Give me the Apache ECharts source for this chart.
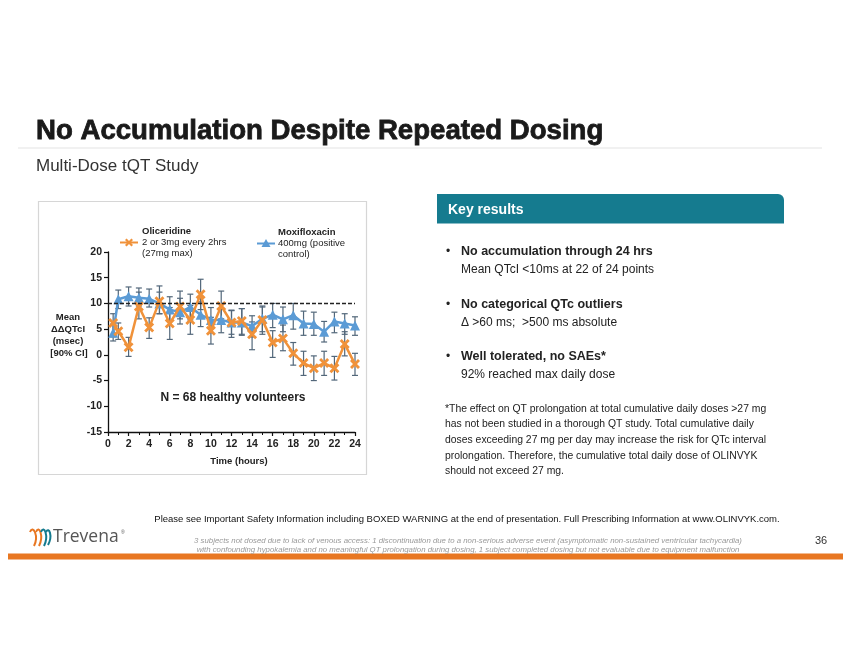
<!DOCTYPE html>
<html>
<head>
<meta charset="utf-8">
<script src="https://cdn.jsdelivr.net/npm/echarts@6/dist/echarts.min.js"></script>
<style>
html,body{margin:0;padding:0;background:#fff;}
#c{width:850px;height:656px;}
</style>
</head>
<body>
<div id="c"></div>
<script>
// ---- data ----
const times = [0.5, 1, 2, 3, 4, 5, 6, 7, 8, 9, 10, 11, 12, 13, 14, 15, 16, 17, 18, 19, 20, 21, 22, 23, 24];
const oliMean = [6.2, 4.6, 1.5, 9.4, 5.3, 10.4, 6.1, 9.4, 6.8, 11.8, 4.7, 9.5, 6.3, 6.6, 4.0, 6.8, 2.4, 3.2, 0.3, -1.6, -2.6, -1.6, -2.6, 2.1, -1.8];
const oliLow  = [3.5, 3.0, -0.3, 7.0, 3.2, 8.0, 3.0, 7.0, 4.0, 8.8, 2.1, 7.0, 3.4, 4.0, 1.0, 4.0, -0.5, 0.8, -2.0, -4.0, -5.0, -4.0, -4.9, -0.2, -4.0];
const oliHigh = [8.0, 6.2, 3.4, 12.2, 7.2, 13.4, 9.2, 12.4, 9.6, 14.7, 7.3, 12.4, 8.6, 9.0, 6.4, 9.5, 4.7, 5.8, 2.4, 0.7, -0.2, 0.7, -0.3, 4.5, 0.3];
const moxMean = [4.3, 10.8, 11.4, 11.1, 10.9, 10.0, 8.8, 8.3, 9.3, 7.8, 6.8, 6.8, 6.3, 6.3, 5.6, 7.0, 7.8, 6.9, 7.7, 6.1, 6.0, 4.5, 6.5, 6.1, 5.7];
const moxLow  = [2.7, 9.0, 9.5, 9.5, 9.3, 8.0, 6.5, 6.0, 6.8, 5.5, 4.3, 4.3, 4.0, 3.8, 3.5, 4.5, 5.3, 4.5, 5.0, 3.8, 3.8, 2.5, 4.3, 4.0, 3.8];
const moxHigh = [6.0, 12.6, 13.2, 13.0, 12.8, 12.2, 11.3, 11.0, 11.8, 10.3, 9.2, 9.0, 8.7, 9.0, 7.6, 9.3, 10.0, 9.3, 10.0, 8.5, 8.3, 6.5, 8.3, 8.0, 7.4];
const refLine = 10;
const xMin = 0, xMax = 24, xStep = 2;
const yMin = -15, yMax = 20, yStep = 5;

const FONT = '"Liberation Sans", Arial, sans-serif';
const ORANGE = '#f0923a';
const BLUE = '#5b9bd5';
const ERR = '#52677a';
const XPATH = 'path://M2,0L5,3L8,0L10,2L7,5L10,8L8,10L5,7L2,10L0,8L3,5L0,2Z';
const XPTS = [[2,0],[5,3],[8,0],[10,2],[7,5],[10,8],[8,10],[5,7],[2,10],[0,8],[3,5],[0,2]];

function pairs(xs, ys) { return xs.map((x, i) => [x, ys[i]]); }
function errData(xs, lo, hi) { return xs.map((x, i) => [x, lo[i], hi[i]]); }

function errRender(params, api) {
  const x = api.value(0);
  const p1 = api.coord([x, api.value(1)]);
  const p2 = api.coord([x, api.value(2)]);
  const w = 3;
  const st = { stroke: ERR, lineWidth: 1.2, fill: null };
  return {
    type: 'group',
    children: [
      { type: 'line', shape: { x1: p1[0], y1: p1[1], x2: p2[0], y2: p2[1] }, style: st },
      { type: 'line', shape: { x1: p1[0] - w, y1: p1[1], x2: p1[0] + w, y2: p1[1] }, style: st },
      { type: 'line', shape: { x1: p2[0] - w, y1: p2[1], x2: p2[0] + w, y2: p2[1] }, style: st }
    ]
  };
}

function txt(x, y, text, size, opts) {
  opts = opts || {};
  return {
    type: 'text', x: x, y: y, z: 10, silent: true,
    style: {
      text: text,
      fontSize: size,
      fontFamily: opts.family || FONT,
      fontWeight: opts.weight || 'normal',
      fontStyle: opts.style || 'normal',
      fill: opts.fill || '#222',
      stroke: opts.stroke || null,
      lineWidth: opts.lw || 0,
      align: opts.align || 'left',
      verticalAlign: 'middle'
    }
  };
}

const chart = echarts.init(document.getElementById('c'), null, { renderer: 'canvas' });

const graphics = [
  // title
  txt(36, 131, 'No Accumulation Despite Repeated Dosing', 27.6, { weight: 'bold', fill: '#1a1a1a', stroke: '#1a1a1a', lw: 0.8 }),
  { type: 'rect', shape: { x: 18, y: 147.5, width: 804, height: 1 }, style: { fill: '#e3e3e3' }, silent: true },
  txt(36, 166, 'Multi-Dose tQT Study', 17, { fill: '#333' }),
  // chart box
  { type: 'rect', shape: { x: 38.5, y: 201.5, width: 328, height: 273 }, style: { fill: null, stroke: '#d6d6d6', lineWidth: 1.2 }, z: 0, silent: true },
  // legend
  txt(142, 231, 'Oliceridine', 9.5, { weight: 'bold' }),
  txt(142, 242.5, '2 or 3mg every 2hrs', 9.5),
  txt(142, 253, '(27mg max)', 9.5),
  { type: 'line', shape: { x1: 120, y1: 242.5, x2: 138, y2: 242.5 }, style: { stroke: ORANGE, lineWidth: 2 }, silent: true },
  { type: 'polygon', shape: { points: XPTS.map(p => [125 + p[0] * 0.8, 238.5 + p[1] * 0.8]) }, style: { fill: ORANGE }, silent: true },
  txt(278, 232.5, 'Moxifloxacin', 9.5, { weight: 'bold' }),
  txt(278, 243.5, '400mg (positive', 9.5),
  txt(278, 254, 'control)', 9.5),
  { type: 'line', shape: { x1: 257, y1: 243.5, x2: 275, y2: 243.5 }, style: { stroke: BLUE, lineWidth: 2 }, silent: true },
  { type: 'polygon', shape: { points: [[266, 239], [270.5, 247], [261.5, 247]] }, style: { fill: BLUE }, silent: true },
  // y axis title
  txt(68, 317, 'Mean', 9.5, { weight: 'bold', align: 'center' }),
  txt(68, 329.5, 'ΔΔQTcI', 9.5, { weight: 'bold', align: 'center' }),
  txt(68, 341.5, '(msec)', 9.5, { weight: 'bold', align: 'center' }),
  txt(69, 353, '[90% CI]', 9.5, { weight: 'bold', align: 'center' }),
  // x axis title
  txt(239, 461, 'Time (hours)', 9.5, { weight: 'bold', align: 'center' }),
  // annotation
  txt(233, 398, 'N = 68 healthy volunteers', 12, { weight: 'bold', align: 'center', fill: '#222' }),
  // key results header
  { type: 'rect', silent: true, shape: { x: 437, y: 194, width: 347, height: 29.5, r: [0, 6, 0, 0] }, style: { fill: '#157b8f' } },
  txt(448, 210, 'Key results', 14, { weight: 'bold', fill: '#ffffff' }),
  txt(446, 252, '•', 12, { fill: '#222' }),
  txt(461, 252, 'No accumulation through 24 hrs', 12.5, { weight: 'bold' }),
  txt(461, 270, 'Mean QTcI <10ms at 22 of 24 points', 12),
  txt(446, 304.5, '•', 12, { fill: '#222' }),
  txt(461, 304.5, 'No categorical QTc outliers', 12.5, { weight: 'bold' }),
  txt(461, 322.5, 'Δ >60 ms;  >500 ms absolute', 12),
  txt(446, 357, '•', 12, { fill: '#222' }),
  txt(461, 357, 'Well tolerated, no SAEs*', 12.5, { weight: 'bold' }),
  txt(461, 374.5, '92% reached max daily dose', 12),
  txt(445, 409, '*The effect on QT prolongation at total cumulative daily doses >27 mg', 10.4),
  txt(445, 424.5, 'has not been studied in a thorough QT study. Total cumulative daily', 10.4),
  txt(445, 440.5, 'doses exceeding 27 mg per day may increase the risk for QTc interval', 10.4),
  txt(445, 456, 'prolongation. Therefore, the cumulative total daily dose of OLINVYK', 10.4),
  txt(445, 471, 'should not exceed 27 mg.', 10.4),
  // footer
  txt(467, 519, 'Please see Important Safety Information including BOXED WARNING at the end of presentation. Full Prescribing Information at www.OLINVYK.com.', 9.5, { align: 'center', fill: '#111' }),
  txt(468, 540.5, '3 subjects not dosed due to lack of venous access: 1 discontinuation due to a non-serious adverse event (asymptomatic non-sustained ventricular tachycardia)', 7.8, { align: 'center', style: 'italic', fill: '#999' }),
  txt(468, 549.5, 'with confounding hypokalemia and no meaningful QT prolongation during dosing, 1 subject completed dosing but not evaluable due to equipment malfunction', 7.8, { align: 'center', style: 'italic', fill: '#999' }),
  txt(815, 541, '36', 11, { fill: '#333' }),
  { type: 'rect', shape: { x: 8, y: 553.5, width: 835, height: 6 }, style: { fill: '#e87722' }, silent: true },
  // logo
  { type: 'bezierCurve', silent: true, shape: { x1: 30, y1: 532, cpx1: 33, cpy1: 524, cpx2: 39, cpy2: 536, x2: 34, y2: 546 }, style: { fill: null, stroke: '#e87722', lineWidth: 2 } },
  { type: 'bezierCurve', silent: true, shape: { x1: 36, y1: 532, cpx1: 39, cpy1: 524, cpx2: 44, cpy2: 536, x2: 39, y2: 546 }, style: { fill: null, stroke: '#e87722', lineWidth: 2 } },
  { type: 'bezierCurve', silent: true, shape: { x1: 41, y1: 532, cpx1: 44, cpy1: 524, cpx2: 49, cpy2: 536, x2: 44, y2: 546 }, style: { fill: null, stroke: '#157b8f', lineWidth: 2 } },
  { type: 'bezierCurve', silent: true, shape: { x1: 46, y1: 532, cpx1: 49, cpy1: 526, cpx2: 53, cpy2: 536, x2: 48, y2: 545 }, style: { fill: null, stroke: '#157b8f', lineWidth: 2 } },
  txt(53, 537, 'Trevena', 17.5, { fill: '#555', family: '"Open Sans", "Liberation Sans", sans-serif' }),
  txt(121, 533, '®', 5, { fill: '#555' })
];

chart.setOption({
  animation: false,
  backgroundColor: '#ffffff',
  textStyle: { fontFamily: FONT },
  grid: { left: 108, top: 252, width: 247, height: 180, containLabel: false },
  xAxis: {
    type: 'value', min: xMin, max: xMax, interval: xStep,
    axisLine: { onZero: false, lineStyle: { color: '#111', width: 1.3 } },
    axisTick: { show: true, length: 4, lineStyle: { color: '#111', width: 1.2 } },
    minorTick: { show: true, splitNumber: 2, length: 3, lineStyle: { color: '#111', width: 1 } },
    axisLabel: { margin: 7, fontSize: 10.5, fontWeight: 'bold', color: '#222', fontFamily: FONT },
    splitLine: { show: false }
  },
  yAxis: {
    type: 'value', min: yMin, max: yMax, interval: yStep,
    axisLine: { show: true, lineStyle: { color: '#111', width: 1.3 } },
    axisTick: { show: true, length: 4, lineStyle: { color: '#111', width: 1.2 } },
    axisLabel: { margin: 6, fontSize: 10.5, fontWeight: 'bold', color: '#222', fontFamily: FONT },
    splitLine: { show: false }
  },
  graphic: graphics,
  series: [
    {
      name: 'mox err', type: 'custom', renderItem: errRender, z: 1,
      data: errData(times, moxLow, moxHigh), encode: { x: 0, y: [1, 2] }, silent: true
    },
    {
      name: 'oli err', type: 'custom', renderItem: errRender, z: 1,
      data: errData(times, oliLow, oliHigh), encode: { x: 0, y: [1, 2] }, silent: true
    },
    {
      name: 'Moxifloxacin', type: 'line', z: 3, data: pairs(times, moxMean),
      symbol: 'triangle', symbolSize: 10, showAllSymbol: true,
      lineStyle: { color: BLUE, width: 2.5 }, itemStyle: { color: BLUE },
      markLine: {
        silent: true, symbol: 'none', label: { show: false },
        lineStyle: { color: '#222', type: [4, 2], width: 1.3 },
        data: [{ yAxis: refLine }]
      }
    },
    {
      name: 'Oliceridine', type: 'line', z: 4, data: pairs(times, oliMean),
      symbol: XPATH, symbolSize: 10, showAllSymbol: true,
      lineStyle: { color: ORANGE, width: 2.5 }, itemStyle: { color: ORANGE }
    }
  ]
});
</script>
</body>
</html>
